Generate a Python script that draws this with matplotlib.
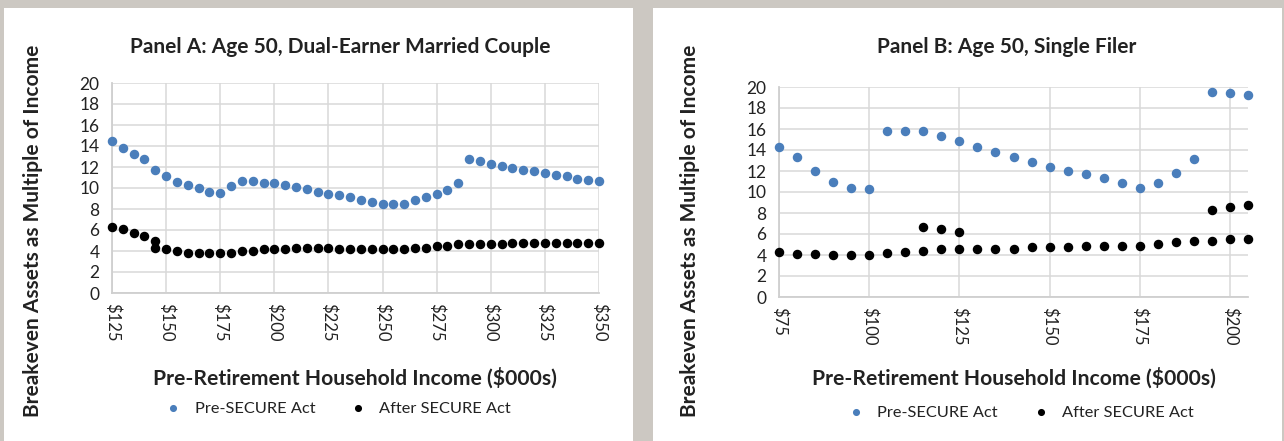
import matplotlib
matplotlib.use("Agg")
import matplotlib.pyplot as plt
from matplotlib.patches import Rectangle
import numpy as np

plt.rcParams['font.family'] = ['Lato', 'DejaVu Sans']

# ------- Panel A: dual-earner married couple -------
a_income = list(range(125, 351, 5))
a_pre = [14.5, 13.85, 13.2, 12.75, 11.75, 11.1, 10.6, 10.3, 10.0, 9.6,
         9.5, 10.15, 10.65, 10.65, 10.45, 10.45, 10.25, 10.1, 9.95, 9.65,
         9.45, 9.3, 9.15, 8.85, 8.65, 8.5, 8.5, 8.5, 8.85, 9.15,
         9.45, 9.85, 10.45, 12.75, 12.6, 12.25, 12.05, 11.9, 11.75, 11.6,
         11.4, 11.25, 11.1, 10.9, 10.75, 10.65]
a_after_income = [125, 130, 135, 140, 145, 145] + list(range(150, 351, 5))
a_after = [6.25, 6.1, 5.75, 5.45, 5.0, 4.3,
           4.15, 4.0, 3.8, 3.8, 3.8, 3.8, 3.8, 4.0, 4.0, 4.15,
           4.15, 4.15, 4.3, 4.3, 4.3, 4.3, 4.15, 4.15, 4.15, 4.15,
           4.15, 4.15, 4.15, 4.3, 4.3, 4.5, 4.5, 4.65, 4.65, 4.65,
           4.65, 4.65, 4.8, 4.8, 4.8, 4.8, 4.8, 4.8, 4.8, 4.8, 4.8]
a_ticks = list(range(125, 351, 25))

# ------- Panel B: single filer -------
b_income = list(range(75, 206, 5))
b_pre = [14.25, 13.3, 12.0, 11.0, 10.35, 10.25, 15.85, 15.85, 15.85, 15.35,
         14.9, 14.25, 13.8, 13.3, 12.85, 12.35, 12.0, 11.7, 11.35, 10.9,
         10.4, 10.9, 11.85, 13.1, 19.55, 19.4, 19.25]
b_after_income = list(range(75, 206, 5)) + [115, 120, 125, 195, 200, 205]
b_after = [4.25, 4.1, 4.1, 4.0, 4.0, 4.0, 4.15, 4.3, 4.4, 4.6,
           4.6, 4.6, 4.6, 4.6, 4.75, 4.75, 4.75, 4.9, 4.9, 4.9,
           4.9, 5.05, 5.2, 5.35, 5.35, 5.5, 5.5,
           6.65, 6.5, 6.2, 8.3, 8.6, 8.8]
b_ticks = list(range(75, 201, 25))

y_ticks = list(range(0, 21, 2))

BLUE = '#4a7ebb'
GRID = '#d9d9d9'
TXT = '#222222'
W, H = 1284, 441

fig = plt.figure(figsize=(W / 100, H / 100), dpi=100, facecolor='#ccc8c2')
# white panels
fig.add_artist(Rectangle((4 / W, 0), (633 - 4) / W, (H - 8) / H,
                         transform=fig.transFigure, facecolor='white', edgecolor='none', zorder=0))
fig.add_artist(Rectangle((653 / W, 0), (1282 - 653) / W, (H - 8) / H,
                         transform=fig.transFigure, facecolor='white', edgecolor='none', zorder=0))


def px_axes(l, t, r, b):
    return fig.add_axes([l / W, (H - b) / H, (r - l) / W, (b - t) / H])


def style(ax, xt, xlim):
    ax.set_facecolor('none')
    ax.set_xlim(*xlim)
    ax.set_ylim(0, 20)
    ax.set_yticks(y_ticks)
    ax.set_xticks(xt)
    ax.set_xticklabels(['$%d' % v for v in xt], rotation=-90, fontsize=12, color=TXT)
    ax.tick_params(axis='y', labelsize=12.5, colors=TXT, length=0, pad=9)
    ax.tick_params(axis='x', length=0, pad=7)
    ax.grid(True, color=GRID, linewidth=1.1)
    ax.set_axisbelow(True)
    for s in ['top', 'right']:
        ax.spines[s].set_visible(False)
    for s in ['left', 'bottom']:
        ax.spines[s].set_color('#cfcfcf')
        ax.spines[s].set_linewidth(1.3)


axA = px_axes(112, 83, 599, 293)
axA.scatter(a_income, a_pre, s=34, color=BLUE, label='Pre-SECURE Act', clip_on=False, zorder=3)
axA.scatter(a_after_income, a_after, s=34, color='black', label='After SECURE Act', clip_on=False, zorder=3)
style(axA, a_ticks, (125, 350))

axB = px_axes(779, 87, 1248, 297)
axB.scatter(b_income, b_pre, s=34, color=BLUE, label='Pre-SECURE Act', clip_on=False, zorder=3)
axB.scatter(b_after_income, b_after, s=34, color='black', label='After SECURE Act', clip_on=False, zorder=3)
style(axB, b_ticks, (75, 205))

for ax, tx, lx, xl, yl, title, legx in [
        (axA, 340, 33, 355, 231, 'Panel A: Age 50, Dual-Earner Married Couple', 0.456),
        (axB, 1007, 690, 1014, 231, 'Panel B: Age 50, Single Filer', 0.507)]:
    fig.text(tx / W, 1 - 47 / H, title, ha='center', va='center',
             fontsize=15, fontweight='bold', color=TXT)
    fig.text(lx / W, 1 - yl / H, 'Breakeven Assets as Multiple of Income', rotation=90,
             ha='center', va='center', fontsize=15, fontweight='bold', color=TXT)
    fig.text(xl / W, 1 - 378 / H, 'Pre-Retirement Household Income ($000s)',
             ha='center', va='center', fontsize=15.2, fontweight='bold', color=TXT)
    ax.legend(loc='center', bbox_to_anchor=(legx, -0.55), ncol=2, frameon=False,
              fontsize=11.8, markerscale=0.7, handletextpad=0.3, columnspacing=1.6,
              labelcolor=TXT)

fig.savefig('out.png', dpi=100, facecolor=fig.get_facecolor())
